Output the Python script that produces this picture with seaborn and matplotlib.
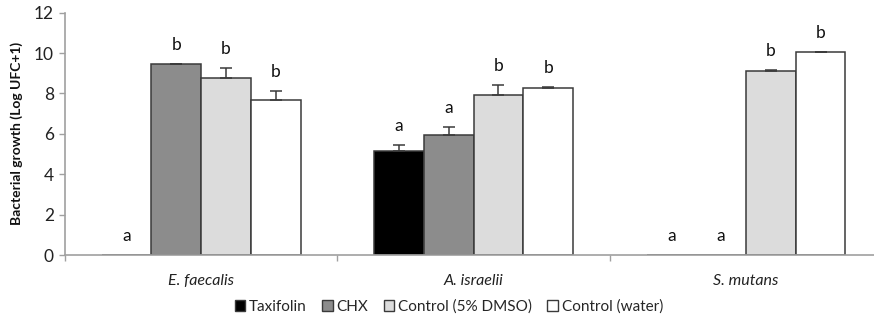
import matplotlib
matplotlib.use("Agg")
import matplotlib.pyplot as plt
from matplotlib.patches import Patch
import seaborn as sns
import pandas as pd

# Bacterial counts per species and treatment (mean, standard deviation, letters)
species = ["E. faecalis", "A. israelii", "S. mutans"]
treatments = ["Taxifolin", "CHX", "Control (5% DMSO)", "Control (water)"]
means = {
    "E. faecalis": [0.0, 9.44, 8.78, 7.68],
    "A. israelii": [5.17, 5.93, 7.93, 8.29],
    "S. mutans": [0.0, 0.0, 9.13, 10.05],
}
errors = {
    "E. faecalis": [0.0, 0.02, 0.50, 0.43],
    "A. israelii": [0.28, 0.43, 0.48, 0.02],
    "S. mutans": [0.0, 0.0, 0.02, 0.02],
}
letters = {
    "E. faecalis": ["a", "b", "b", "b"],
    "A. israelii": ["a", "a", "b", "b"],
    "S. mutans": ["a", "a", "b", "b"],
}
fills = ["#000000", "#8c8c8c", "#dcdcdc", "#ffffff"]

rows = []
for sp in species:
    for i, tr in enumerate(treatments):
        rows.append({"species": sp, "treatment": tr, "growth": means[sp][i],
                     "err": errors[sp][i], "letter": letters[sp][i]})
df = pd.DataFrame(rows)

sns.set_theme(style="white")
plt.rcParams["font.family"] = ["Lato", "DejaVu Sans"]

fig = plt.figure(figsize=(8.74, 3.28), dpi=100)
ax = fig.add_axes([65 / 874, 1 - 255 / 328, 809 / 874, 242.3 / 328])

sns.barplot(data=df, x="species", y="growth", hue="treatment",
            order=species, hue_order=treatments, palette=fills,
            errorbar=None, width=0.73, gap=0, edgecolor="#3a3a3a",
            linewidth=1.1, legend=False, ax=ax)

edge = "#3a3a3a"
for tr, container in zip(treatments, ax.containers):
    sub = df[df["treatment"] == tr].set_index("species").loc[species]
    for bar, (_, r) in zip(container, sub.iterrows()):
        xc = bar.get_x() + bar.get_width() / 2
        h = bar.get_height()
        if r["err"] > 0:
            ax.errorbar(xc, h, yerr=[[0], [r["err"]]], fmt="none",
                        ecolor=edge, elinewidth=1.1, capsize=4, capthick=1.1,
                        zorder=3)
        ax.annotate(r["letter"], (xc, h + r["err"]), xytext=(0, 10),
                    textcoords="offset points", ha="center", va="baseline",
                    fontsize=12.5, color="#111111")

ax.set_xlim(-0.5, 2.47)
ax.set_ylim(0, 12)
ax.set_yticks(range(0, 13, 2))
ax.set_xticks([-0.5, 0.5, 1.5], minor=False)
ax.set_xticklabels([])
for i, sp in enumerate(species):
    ax.text(i, -0.95, sp, ha="center", va="top", fontsize=11.5,
            style="italic", color="#222222", transform=ax.transData)

ax.set_xlabel("")
ax.set_ylabel("Bacterial growth (Log UFC+1)", fontsize=10, fontweight="bold",
              labelpad=8, color="#111111")
ax.tick_params(axis="y", labelsize=12.5, length=4, width=1, color="#a0a0a0",
               direction="out", left=True, pad=4, labelcolor="#222222")
ax.tick_params(axis="x", length=4, width=1, color="#a0a0a0",
               direction="out", bottom=True)

sns.despine(ax=ax, top=True, right=True)
for s in ("left", "bottom"):
    ax.spines[s].set_color("#a0a0a0")
    ax.spines[s].set_linewidth(1.2)

handles = [Patch(facecolor=c, edgecolor=edge, linewidth=1) for c in fills]
fig.legend(handles, treatments, loc="center", bbox_to_anchor=(449 / 874, 21 / 328),
           ncol=4, frameon=False, fontsize=11, handlelength=0.7,
           handleheight=0.7, handletextpad=0.25, columnspacing=1.0)

fig.savefig("out.png", dpi=100)
